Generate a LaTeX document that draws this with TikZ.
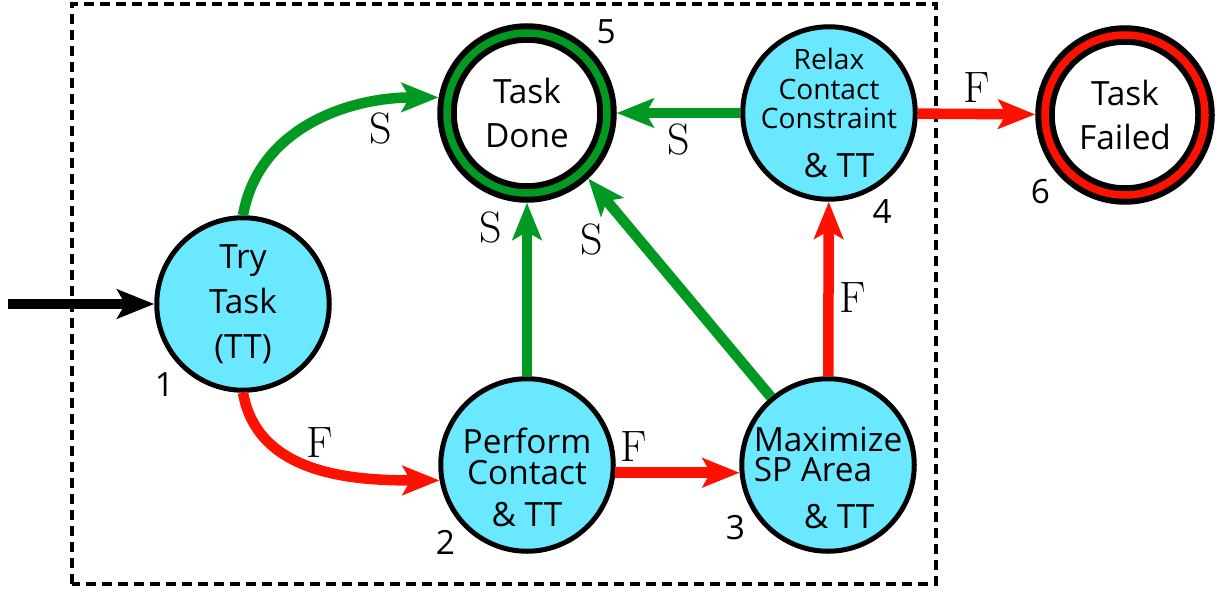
\documentclass[tikz,border=0pt]{standalone}
\usepackage{fontspec}
\newfontfamily\statefont{Open Sans}
\usetikzlibrary{arrows.meta}
\definecolor{stcyan}{RGB}{106,232,255}
\definecolor{okgreen}{RGB}{0,153,34}
\definecolor{badred}{RGB}{255,17,0}
\tikzset{
  state/.style    = {circle,draw=black,line width=0.1cm,fill=stcyan,
                     minimum size=3.45cm,inner sep=-0.5cm,align=center,
                     font=\statefont\fontsize{19}{25.5}\selectfont},
  tight/.style    = {font=\statefont\fontsize{19}{17.5}\selectfont},
  endstate/.style = {circle,draw=black,line width=0.12cm,double=#1,
                     double distance=0.15cm,fill=white,minimum size=3.2cm,
                     outer sep=0.195cm,inner sep=0pt,align=center,
                     font=\statefont\fontsize{19}{25}\selectfont},
  tip/.style      = {-{Stealth[length=0.74cm,width=0.58cm,inset=0.16cm]},
                     line width=0.21cm},
  okarrow/.style  = {tip,color=okgreen},
  badarrow/.style = {tip,color=badred},
  blkarrow/.style = {tip,color=black},
  edgelbl/.style  = {font=\fontsize{25}{30}\selectfont,text=black},
  numlbl/.style   = {font=\statefont\fontsize{19}{20}\selectfont,text=black},
  frame/.style    = {draw=black,line width=0.09cm,dash pattern=on 0.2cm off 0.12cm},
}

\begin{document}
\begin{tikzpicture}
  \useasboundingbox (0,0) rectangle (24.54,11.88);
  \draw[frame] (1.44,0.2) rectangle (18.72,11.80);

  % states
  \node[state,label={[numlbl]225:1}] (try) at (4.86,5.80) {Try\\Task\\(TT)};
  \node[state,tight,label={[numlbl]222:2}] (perform) at (10.54,2.58)
    {\rule{0pt}{1.0cm}Perform\\Contact\\[0.22cm]\& TT};
  \node[state,tight,align=left,label={[numlbl]210:3}] (maxsp) at (16.56,2.58)
    {\rule{0pt}{1.0cm}Maximize\\SP Area\\[0.32cm]\hspace*{1.0cm}\& TT};
  \node[state,font=\statefont\fontsize{16}{17}\selectfont,label={[numlbl]-65:4}]
    (relax) at (16.58,9.62)
    {Relax\\Contact\\Constraint\\[0.38cm]\hspace*{0.4cm}{\fontsize{19}{17}\selectfont\& TT}};
  \node[endstate=okgreen,label={[numlbl]45:5}] (done) at (10.54,9.62) {Task\\Done};
  \node[endstate=badred,label={[numlbl]220:6}] (failed) at (22.50,9.58) {Task\\Failed};
  \coordinate (start) at (0.16,5.80);

  % transitions
  \draw[blkarrow] (start) -- (try);
  \draw[okarrow] (try.north) to[out=80,in=180]
    node[edgelbl,pos=0.78,below] {S} (done.170);
  \draw[badarrow] (try.south) to[out=-80,in=180]
    node[edgelbl,pos=0.52,above] {F} (perform.190);
  \draw[okarrow] (perform) -- node[edgelbl,pos=0.86,left=0.28cm] {S} (done);
  \draw[okarrow] (maxsp.130) -- node[edgelbl,pos=0.72,left=0.5cm] {S} (done.-47);
  \draw[okarrow] (relax) -- node[edgelbl,midway,below] {S} (done);
  \draw[badarrow] (perform.-5) -- node[edgelbl,pos=0.15,above] {F} (maxsp.185);
  \draw[badarrow] (maxsp) -- node[edgelbl,pos=0.45,right] {F} (relax);
  \draw[badarrow] (relax) -- node[edgelbl,midway,above] {F} (failed);
\end{tikzpicture}
\end{document}
